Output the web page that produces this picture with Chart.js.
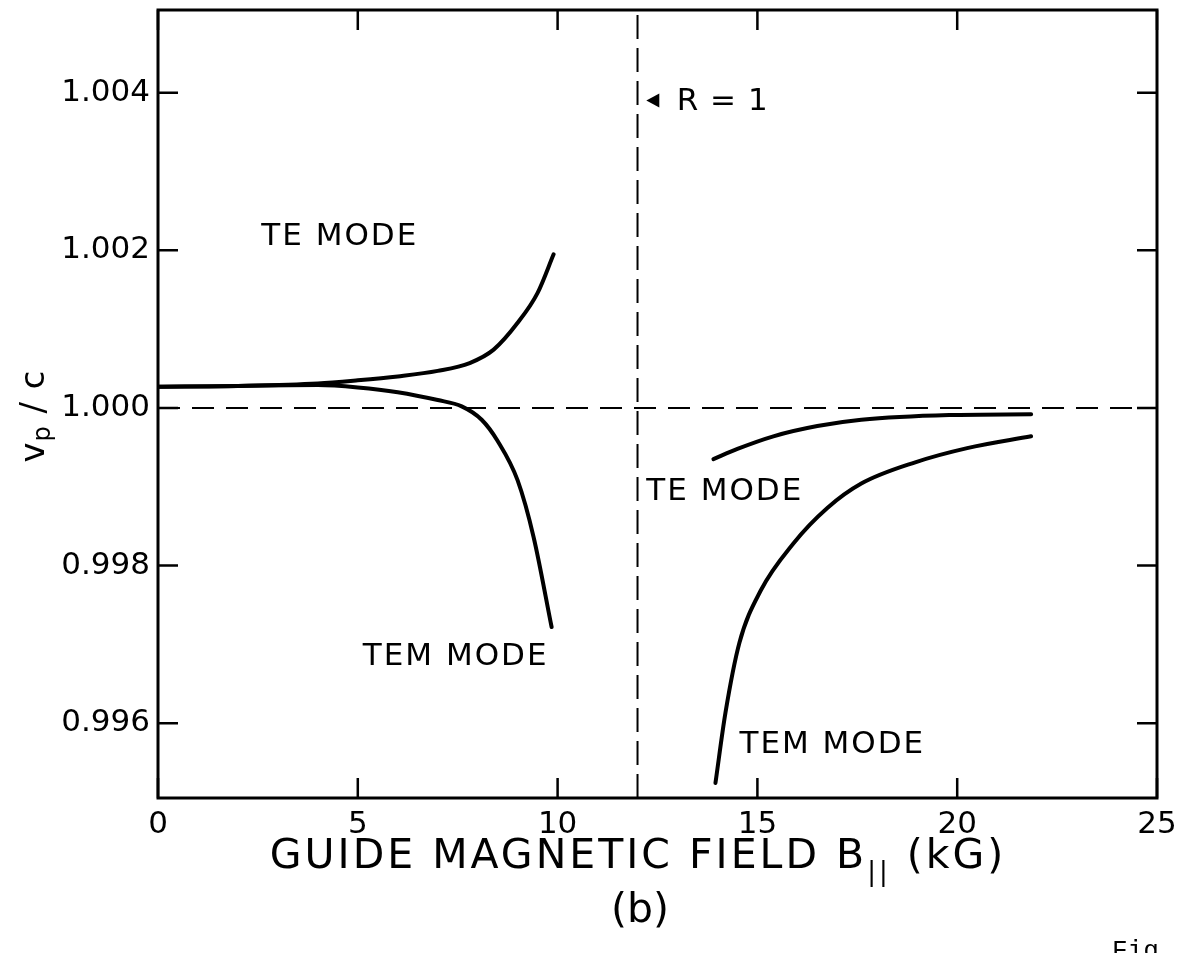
<!DOCTYPE html>
<html>
<head>
<meta charset="utf-8">
<script src="https://cdn.jsdelivr.net/npm/chart.js@4.4.0/dist/chart.umd.min.js"></script>
<style>
  body { margin: 0; background: #fff; }
  #wrap { width: 1181px; height: 953px; }
</style>
</head>
<body>
<div id="wrap"><canvas id="modeChart" width="1181" height="953"></canvas></div>
<script>
// axis ranges and tick values
const xTicks = [0, 5, 10, 15, 20, 25];
const yTicks = [0.996, 0.998, 1.000, 1.002, 1.004];
const yTickLabels = ["0.996", "0.998", "1.000", "1.002", "1.004"];

// curves (B in kG, vp/c)
const teLeftX = [0, 2, 4, 5, 6, 7, 7.8, 8.4, 9, 9.5, 9.9];
const teLeftY = [1.00027, 1.00028, 1.00031, 1.00035, 1.0004, 1.00047, 1.00057, 1.00074, 1.00108, 1.00146, 1.00195];

const temLeftX = [0, 2, 4, 5, 6, 7, 7.6, 8.1, 8.5, 9, 9.4, 9.85];
const temLeftY = [1.00027, 1.00028, 1.00029, 1.00026, 1.0002, 1.0001, 1.00002, 0.99985, 0.99958, 0.99908, 0.99836, 0.99722];

const teRightX = [13.9, 14.5, 15.4, 16.5, 17.6, 19.8, 21.85];
const teRightY = [0.99935, 0.99948, 0.99964, 0.99977, 0.99985, 0.99991, 0.99992];

const temRightX = [13.95, 14.2, 14.55, 15.08, 15.9, 16.75, 17.6, 18.95, 20.25, 21.85];
const temRightY = [0.99524, 0.99613, 0.99702, 0.99768, 0.99828, 0.99873, 0.99904, 0.99931, 0.99949, 0.99964];

// reference lines: vp = c and R = 1
const refHX = [0, 25];
const refHY = [1.0, 1.0];
const refVX = [12, 12];
const refVY = [0.99505, 1.00505];

// text labels placed in data units
const modeLabels = [
  { text: "TE MODE", x: 4.55, y: 1.00217, align: "center" },
  { text: "TEM MODE", x: 7.45, y: 0.99684, align: "center" },
  { text: "TE MODE", x: 12.22, y: 0.99893, align: "left" },
  { text: "TEM MODE", x: 16.875, y: 0.99572, align: "center" },
];

function toPoints(xs, ys) {
  return xs.map((x, i) => ({ x: x, y: ys[i] }));
}

function curve(xs, ys) {
  return {
    data: toPoints(xs, ys),
    showLine: true,
    borderColor: "#000",
    borderWidth: 4,
    pointRadius: 0,
    cubicInterpolationMode: "monotone",
    borderCapStyle: "round",
  };
}

function dashed(xs, ys, dash) {
  return {
    data: toPoints(xs, ys),
    showLine: true,
    borderColor: "#000",
    borderWidth: 2,
    pointRadius: 0,
    borderDash: dash,
  };
}

function noPad(s) {
  s.paddingTop = 0;
  s.paddingBottom = 0;
  s.paddingLeft = 0;
  s.paddingRight = 0;
}

// frame, inward ticks and all the lettering
const decorPlugin = {
  id: "decor",
  afterDraw(chart) {
    const ctx = chart.ctx;
    const a = chart.chartArea;
    const xs = chart.scales.x;
    const ys = chart.scales.y;
    ctx.save();
    ctx.strokeStyle = "#000";
    ctx.lineWidth = 3;
    ctx.strokeRect(a.left, a.top, a.right - a.left, a.bottom - a.top);

    ctx.lineWidth = 2.5;
    const tl = 20;
    ctx.beginPath();
    xTicks.forEach((v) => {
      const px = xs.getPixelForValue(v);
      ctx.moveTo(px, a.bottom); ctx.lineTo(px, a.bottom - tl);
      ctx.moveTo(px, a.top); ctx.lineTo(px, a.top + tl);
    });
    yTicks.forEach((v) => {
      const py = ys.getPixelForValue(v);
      ctx.moveTo(a.left, py); ctx.lineTo(a.left + tl, py);
      ctx.moveTo(a.right, py); ctx.lineTo(a.right - tl, py);
    });
    ctx.stroke();

    ctx.fillStyle = "#000";
    ctx.textBaseline = "middle";
    ctx.font = "31px 'DejaVu Sans'";
    ctx.letterSpacing = "2px";
    modeLabels.forEach((l) => {
      ctx.textAlign = l.align;
      ctx.fillText(l.text, xs.getPixelForValue(l.x), ys.getPixelForValue(l.y));
    });

    // R = 1 marker
    const ax = xs.getPixelForValue(12.22);
    const ay = ys.getPixelForValue(1.0039);
    ctx.beginPath();
    ctx.moveTo(ax, ay);
    ctx.lineTo(ax + 13, ay - 7);
    ctx.lineTo(ax + 13, ay + 7);
    ctx.closePath();
    ctx.fill();
    ctx.textAlign = "left";
    ctx.letterSpacing = "1px";
    ctx.fillText("R = 1", xs.getPixelForValue(12.98), ay + 1);

    // x axis title with subscript
    ctx.textBaseline = "alphabetic";
    ctx.letterSpacing = "3px";
    const main = "GUIDE MAGNETIC FIELD B";
    const tail = " (kG)";
    ctx.font = "26px 'DejaVu Sans'";
    const subW = ctx.measureText("||").width;
    ctx.font = "41px 'DejaVu Sans'";
    const mainW = ctx.measureText(main).width;
    const tailW = ctx.measureText(tail).width;
    const sx = 638 - (mainW + subW + tailW) / 2;
    const base = 868;
    ctx.fillText(main, sx, base);
    ctx.font = "26px 'DejaVu Sans'";
    ctx.fillText("||", sx + mainW, base + 12);
    ctx.font = "41px 'DejaVu Sans'";
    ctx.fillText(tail, sx + mainW + subW, base);

    ctx.letterSpacing = "0px";
    ctx.textAlign = "center";
    ctx.fillText("(b)", 640, 922);

    // y axis title
    ctx.save();
    ctx.translate(44, 416);
    ctx.rotate(-Math.PI / 2);
    ctx.letterSpacing = "1px";
    ctx.font = "34px 'DejaVu Sans'";
    const p1 = "v";
    const p3 = " / c";
    const w1 = ctx.measureText(p1).width;
    ctx.font = "24px 'DejaVu Sans'";
    const w2 = ctx.measureText("p").width;
    ctx.font = "34px 'DejaVu Sans'";
    const w3 = ctx.measureText(p3).width;
    const tx = -(w1 + w2 + w3) / 2;
    ctx.textAlign = "left";
    ctx.fillText(p1, tx, 0);
    ctx.font = "24px 'DejaVu Sans'";
    ctx.fillText("p", tx + w1, 6);
    ctx.font = "34px 'DejaVu Sans'";
    ctx.fillText(p3, tx + w1 + w2, 0);
    ctx.restore();

    // figure number, cut at page edge
    ctx.font = "26px 'Liberation Mono'";
    ctx.textAlign = "left";
    ctx.fillText("Fig.", 1112, 958);
    ctx.restore();
  },
};

const config = {
  type: "scatter",
  data: {
    datasets: [
      curve(teLeftX, teLeftY),
      curve(temLeftX, temLeftY),
      curve(teRightX, teRightY),
      curve(temRightX, temRightY),
      dashed(refHX, refHY, [22, 12]),
      dashed(refVX, refVY, [24, 9]),
    ],
  },
  options: {
    responsive: false,
    animation: false,
    layout: { padding: { top: 10, right: 24, left: 0, bottom: 0 } },
    plugins: { legend: { display: false }, tooltip: { enabled: false } },
    scales: {
      x: {
        type: "linear",
        min: 0,
        max: 25,
        afterBuildTicks: (s) => { s.ticks = xTicks.map((v) => ({ value: v })); },
        afterFit: (s) => { s.height = 155; noPad(s); },
        grid: { display: false, drawTicks: false },
        border: { display: false },
        ticks: {
          color: "#000",
          padding: 8,
          maxRotation: 0,
          font: { family: "DejaVu Sans", size: 31 },
        },
      },
      y: {
        type: "linear",
        min: 0.99505,
        max: 1.00505,
        afterBuildTicks: (s) => { s.ticks = yTicks.map((v) => ({ value: v })); },
        afterFit: (s) => { s.width = 158; noPad(s); },
        grid: { display: false, drawTicks: false },
        border: { display: false },
        ticks: {
          color: "#000",
          padding: 8,
          font: { family: "DejaVu Sans", size: 31 },
          callback: (v) => yTickLabels[yTicks.findIndex((t) => Math.abs(t - v) < 1e-7)],
        },
      },
    },
  },
  plugins: [decorPlugin],
};

new Chart(document.getElementById("modeChart"), config);
</script>
</body>
</html>
